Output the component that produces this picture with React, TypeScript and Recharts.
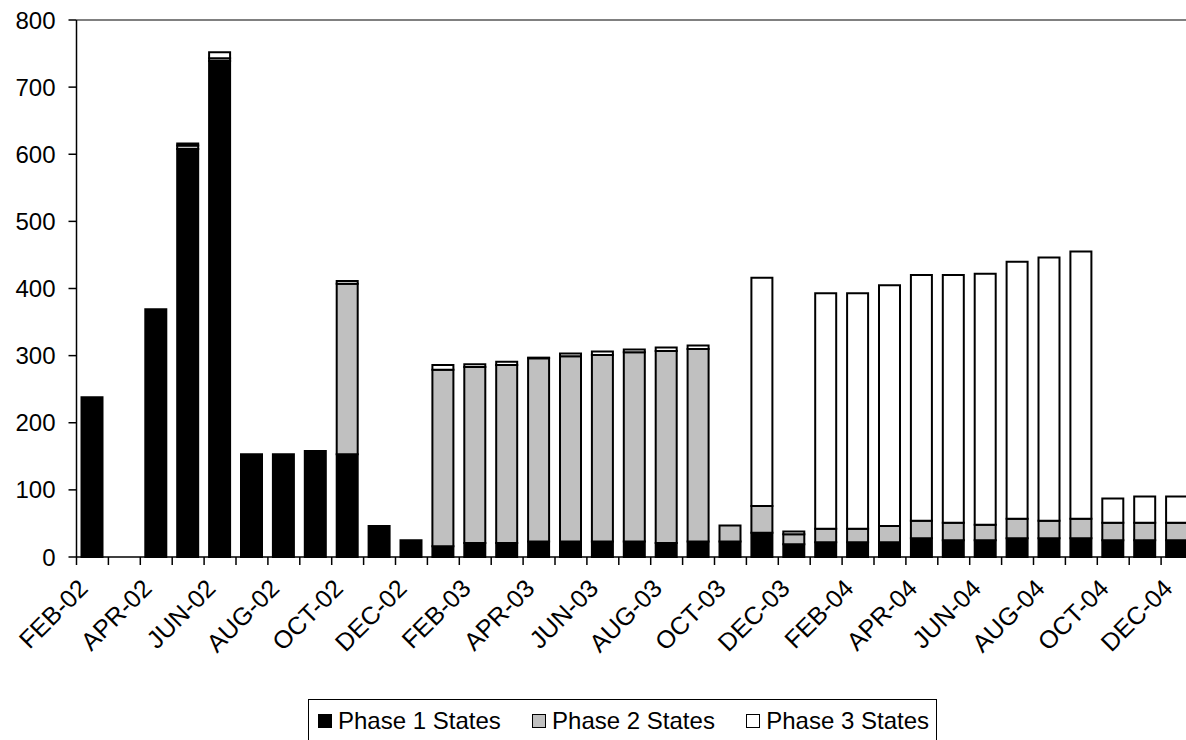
import React from 'react';
import { BarChart, Bar, XAxis, YAxis, Legend, ReferenceLine } from 'recharts';

const months = [
  'FEB-02', 'MAR-02', 'APR-02', 'MAY-02', 'JUN-02', 'JUL-02', 'AUG-02', 'SEP-02', 'OCT-02', 'NOV-02', 'DEC-02',
  'JAN-03', 'FEB-03', 'MAR-03', 'APR-03', 'MAY-03', 'JUN-03', 'JUL-03', 'AUG-03', 'SEP-03', 'OCT-03', 'NOV-03', 'DEC-03',
  'JAN-04', 'FEB-04', 'MAR-04', 'APR-04', 'MAY-04', 'JUN-04', 'JUL-04', 'AUG-04', 'SEP-04', 'OCT-04', 'NOV-04', 'DEC-04',
];

const phase1 = [
  238, 0, 369, 608, 739, 153, 153, 158, 153, 46, 25,
  16, 21, 21, 23, 23, 23, 23, 21, 23, 23, 36, 19,
  22, 22, 22, 28, 25, 25, 28, 28, 28, 25, 25, 25,
];
const phase2 = [
  0, 0, 0, 5, 4, 0, 0, 0, 254, 0, 0,
  263, 262, 265, 273, 276, 278, 282, 286, 287, 24, 40, 15,
  20, 20, 24, 26, 26, 23, 29, 26, 29, 26, 26, 26,
];
const phase3 = [
  0, 0, 0, 3, 9, 0, 0, 0, 4, 0, 0,
  7, 4, 5, 1, 4, 5, 4, 5, 5, 0, 340, 4,
  351, 351, 359, 366, 369, 374, 383, 392, 398, 36, 39, 39,
];

const yTicks = [0, 100, 200, 300, 400, 500, 600, 700, 800];

const data = months.map((m, i) => ({
  month: m,
  p1: phase1[i],
  p2: phase2[i],
  p3: phase3[i],
}));

const CHART_W = 1200;
const CHART_H = 740;
const Y_W = 76.5;
const RIGHT = 7;
const BAND = (CHART_W - Y_W - RIGHT) / months.length;
const FONT = "'Liberation Sans', Arial, sans-serif";

const MonthTick = (props: any) => {
  const { x, y, payload } = props;
  const i = payload?.index ?? props.index;
  const edge = x - BAND / 2;
  const tx = x - 3;
  const ty = y + 33;
  return (
    <g>
      <line x1={edge} x2={edge} y1={y} y2={y + 8} stroke='#000' strokeWidth={1.5} />
      {i % 2 === 0 && (
        <text
          x={tx}
          y={ty}
          textAnchor='end'
          transform={`rotate(-45 ${tx} ${ty})`}
          fontSize={25}
          fontFamily={FONT}
          fill='#000'
        >
          {payload.value}
        </text>
      )}
    </g>
  );
};

const renderLegend = (props: any) => {
  const { payload } = props;
  return (
    <div
      style={{
        border: '1px solid #000',
        boxSizing: 'border-box',
        height: 44,
        display: 'flex',
        alignItems: 'center',
        justifyContent: 'space-between',
        paddingLeft: 9,
        paddingRight: 7,
        fontSize: 24,
        fontFamily: FONT,
        color: '#000',
        background: '#fff',
      }}
    >
      {(payload || []).map((entry: any) => (
        <span key={entry.value} style={{ display: 'flex', alignItems: 'center' }}>
          <span
            style={{
              display: 'inline-block',
              width: 12,
              height: 12,
              background: entry.color,
              border: '1px solid #000',
              marginRight: 6,
            }}
          />
          {entry.value}
        </span>
      ))}
    </div>
  );
};

export default function App() {
  return (
    <div
      style={{
        position: 'absolute',
        left: 0,
        top: 0,
        width: 1186,
        height: 740,
        overflow: 'hidden',
        background: '#fff',
        fontFamily: FONT,
      }}
    >
      <BarChart
        width={CHART_W}
        height={CHART_H}
        data={data}
        margin={{ top: 20, right: RIGHT, left: 0, bottom: 123 }}
      >
        <XAxis
          dataKey='month'
          interval={0}
          height={60}
          tickLine={false}
          tickSize={0}
          tickMargin={0}
          axisLine={{ stroke: '#000', strokeWidth: 1.5 }}
          tick={<MonthTick />}
        />
        <YAxis
          width={Y_W}
          domain={[0, 800]}
          ticks={yTicks}
          interval={0}
          tickSize={8}
          tickMargin={13}
          axisLine={{ stroke: '#000', strokeWidth: 1.5 }}
          tickLine={{ stroke: '#000', strokeWidth: 1.5 }}
          tick={{ fill: '#000', fontSize: 24, fontFamily: FONT }}
        />
        <ReferenceLine y={800} stroke='#808080' strokeWidth={2} />
        <Legend
          verticalAlign='middle'
          align='center'
          layout='horizontal'
          content={renderLegend}
          wrapperStyle={{ top: 699, left: 308, width: 629, height: 44 }}
        />
        <Bar name='Phase 1 States' dataKey='p1' stackId='a' fill='#000000' stroke='#000' strokeWidth={2} barSize={21} isAnimationActive={false} />
        <Bar name='Phase 2 States' dataKey='p2' stackId='a' fill='#C0C0C0' stroke='#000' strokeWidth={2} barSize={21} isAnimationActive={false} />
        <Bar name='Phase 3 States' dataKey='p3' stackId='a' fill='#FFFFFF' stroke='#000' strokeWidth={2} barSize={21} isAnimationActive={false} />
      </BarChart>
    </div>
  );
}
